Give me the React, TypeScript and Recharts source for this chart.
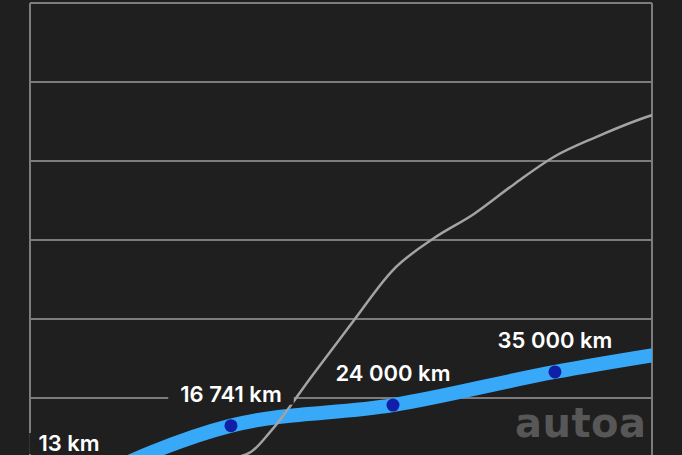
import React from 'react';
import { LineChart, Line, XAxis, YAxis, CartesianGrid, ReferenceLine, LabelList } from 'recharts';

// mileage readings (blue) – position index and plotted level
const readingIndex = [0, 1, 2, 3, 4];
const readingLevel = [0.85, 1.65, 1.91, 2.33, 2.67];
const readingLabels = ['13 km', '16 741 km', '24 000 km', '35 000 km', ''];

// average mileage curve (gray)
const avgIndex = [0, 0.5, 1, 1.125, 1.25, 1.5, 1.75, 2, 2.25, 2.5, 2.75, 3, 3.25, 3.5, 3.75];
const avgLevel = [1.1, 1.18, 1.24, 1.32, 1.59, 2.28, 2.96, 3.62, 4.02, 4.33, 4.71, 5.06, 5.3, 5.51, 5.68];

const levelTicks = [0, 1, 2, 3, 4, 5, 6, 7];
const xMin = -0.2407;
const xMax = 3.599;

const readings = readingIndex.map((x, i) => ({ x, v: readingLevel[i], label: readingLabels[i] }));
const average = avgIndex.map((x, i) => ({ x, v: avgLevel[i] }));

const BG = '#1f1f1f';
const GRID = '#7c7c7c';

function ReadingLabel(props: any) {
  const { x, y, value } = props;
  if (!value) return null;
  // keep labels inside the visible area
  const base = Math.min(y - 24, 451);
  const w = String(value).length * 11.5 + 22;
  return (
    <g>
      <rect x={x - w / 2} y={base - 18} width={w} height={21} fill={BG} />
      <text
        x={x}
        y={base}
        textAnchor="middle"
        fill="#ffffff"
        fontSize={22}
        fontWeight={600}
        fontFamily="Inter, Roboto, sans-serif"
      >
        {value}
      </text>
    </g>
  );
}

export default function App() {
  return (
    <div style={{ position: 'absolute', left: 0, top: 0, width: 682, height: 455, overflow: 'hidden', background: BG }}>
      <LineChart width={682} height={560} margin={{ top: 3, right: 30, left: 30, bottom: 4 }}>
        <CartesianGrid vertical={false} stroke={GRID} strokeWidth={2} />
        <XAxis type="number" dataKey="x" domain={[xMin, xMax]} allowDataOverflow hide />
        <YAxis type="number" domain={[0, 7]} ticks={levelTicks} allowDataOverflow hide />
        <ReferenceLine x={xMin} stroke={GRID} strokeWidth={2} />
        <ReferenceLine x={xMax} stroke={GRID} strokeWidth={2} />
        <Line
          data={readings}
          dataKey="v"
          type="monotone"
          stroke="#38a8f8"
          strokeWidth={14}
          dot={{ r: 6.5, fill: '#0f1fa8', stroke: 'none' }}
          isAnimationActive={false}
        >
          <LabelList dataKey="label" content={<ReadingLabel />} />
        </Line>
        <Line
          data={average}
          dataKey="v"
          type="monotone"
          stroke="#a3a3a3"
          strokeWidth={2.5}
          dot={false}
          isAnimationActive={false}
        />
      </LineChart>
      <svg width={682} height={455} style={{ position: 'absolute', left: 0, top: 0, pointerEvents: 'none' }}>
        <text x={515} y={437} fill="#575757" fontSize={40} fontWeight={700} letterSpacing={0.5} fontFamily="'DejaVu Sans', sans-serif">
          autoa
        </text>
      </svg>
    </div>
  );
}
